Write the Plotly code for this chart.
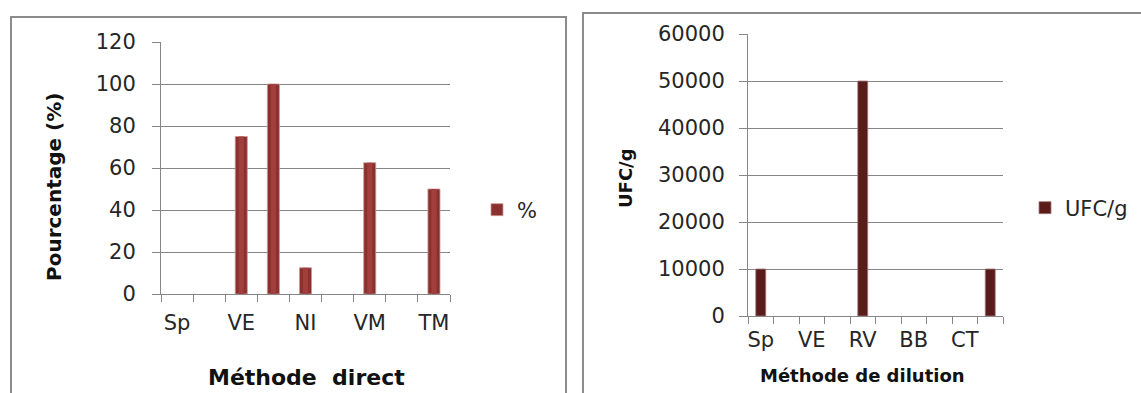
import plotly.graph_objects as go
import numpy as np

W, H = 1141, 393

# ---- data: left chart (Méthode direct) ----
left_tick_labels = ["Sp", "VE", "NI", "VM", "TM"]   # labels shown on every other category
left_values = [0, 0, 75, 100, 12.5, 0, 62.5, 0, 50]
left_series = "%"

# ---- data: right chart (Méthode de dilution) ----
right_tick_labels = ["Sp", "VE", "RV", "BB", "CT"]
right_values = [10000, 0, 0, 0, 50000, 0, 0, 0, 0, 10000]
right_series = "UFC/g"

xl = np.arange(1, len(left_values) + 1)
xr = np.arange(1, len(right_values) + 1)

def nz(vals):
    # zero-height bars are not drawn (as in the original)
    return [v if v != 0 else None for v in vals]

FONT = "DejaVu Sans"
AXC = "#868686"
TXT = "#262626"

def px(x):
    return x / W

def py(y):
    return 1 - y / H

fig = go.Figure()

fig.add_trace(go.Bar(
    x=xl, y=nz(left_values), name=left_series, width=0.375,
    marker=dict(color="#8a3130", line=dict(color="rgba(205,150,148,0.8)", width=1)),
    xaxis="x", yaxis="y", legend="legend",
))
fig.add_trace(go.Bar(
    x=xl, y=nz(left_values), name=left_series, width=0.16, showlegend=False,
    marker=dict(color="#a23f3d", line=dict(width=0)), hoverinfo="skip",
    xaxis="x", yaxis="y",
))
fig.add_trace(go.Bar(
    x=xr, y=nz(right_values), name=right_series, width=0.39,
    marker=dict(color="#5a1b1b", line=dict(color="rgba(160,120,120,0.8)", width=1)),
    xaxis="x2", yaxis="y2", legend="legend2",
))

def xaxis_cfg(domain, n, labels, standoff):
    return dict(
        domain=domain, range=[0.5, n + 0.5], automargin=False,
        tickmode="array", tickvals=list(np.arange(1, n + 1, 2)), ticktext=labels,
        ticks="outside", ticklen=0, tickcolor=AXC,
        minor=dict(tickmode="array", tickvals=list(np.arange(0.5, n + 1, 1.0)),
                   ticks="outside", ticklen=7, tickcolor=AXC, tickwidth=1, showgrid=False),
        showline=True, linecolor=AXC, linewidth=1, showgrid=False, zeroline=False,
        tickfont=dict(family=FONT, size=21, color=TXT), ticklabelstandoff=standoff,
        fixedrange=True,
    )

def yaxis_cfg(domain, rng, dtick, standoff):
    return dict(
        domain=domain, range=rng, dtick=dtick, tick0=0, automargin=False,
        tickformat="d",
        ticks="outside", ticklen=8, tickcolor=AXC, tickwidth=1,
        showline=True, linecolor=AXC, linewidth=1,
        showgrid=True, gridcolor=AXC, gridwidth=1, zeroline=False,
        tickfont=dict(family=FONT, size=21, color=TXT), ticklabelstandoff=standoff,
        fixedrange=True,
    )

fig.update_layout(
    template="none",
    width=W, height=H,
    margin=dict(l=0, r=0, t=0, b=0, pad=0),
    paper_bgcolor="white", plot_bgcolor="white",
    barmode="overlay",
    xaxis=dict(xaxis_cfg([px(161), px(450)], len(left_values), left_tick_labels, 10), anchor="y"),
    yaxis=dict(yaxis_cfg([py(294), py(42)], [0, 120], 20, 12), anchor="x"),
    xaxis2=dict(xaxis_cfg([px(748), px(1003)], len(right_values), right_tick_labels, 5), anchor="y2"),
    yaxis2=dict(yaxis_cfg([py(316), py(34)], [0, 60000], 10000, 10), anchor="x2"),
    legend=dict(x=px(477), y=py(210), xanchor="left", yanchor="middle",
                font=dict(family=FONT, size=21, color=TXT), itemwidth=30,
                bgcolor="rgba(0,0,0,0)", borderwidth=0),
    legend2=dict(x=px(1025), y=py(208), xanchor="left", yanchor="middle",
                 font=dict(family=FONT, size=21, color=TXT), itemwidth=30,
                 bgcolor="rgba(0,0,0,0)", borderwidth=0),
    showlegend=True,
)

annotations = [
    dict(text="<b>Pourcentage (%)</b>", x=px(54), y=py(187), textangle=-90,
         font=dict(family=FONT, size=20, color="#111")),
    dict(text="<b>Méthode\u00a0 direct</b>", x=px(306), y=py(377),
         font=dict(family=FONT, size=22, color="#111")),
    dict(text="<b>UFC/g</b>", x=px(626), y=py(178), textangle=-90,
         font=dict(family=FONT, size=18, color="#111")),
    dict(text="<b>Méthode de dilution</b>", x=px(862), y=py(375),
         font=dict(family=FONT, size=18, color="#111")),
]
for a in annotations:
    a.update(xref="paper", yref="paper", showarrow=False, xanchor="center", yanchor="middle")
fig.update_layout(annotations=annotations)

fig.add_shape(type="rect", xref="paper", yref="paper",
              x0=px(11), x1=px(566), y0=-0.05, y1=py(17),
              line=dict(color="#8c8c8c", width=2), fillcolor="rgba(0,0,0,0)", layer="below")
fig.add_shape(type="rect", xref="paper", yref="paper",
              x0=px(583), x1=1.05, y0=-0.05, y1=py(13),
              line=dict(color="#8c8c8c", width=2), fillcolor="rgba(0,0,0,0)", layer="below")

fig.write_html("out.html")
